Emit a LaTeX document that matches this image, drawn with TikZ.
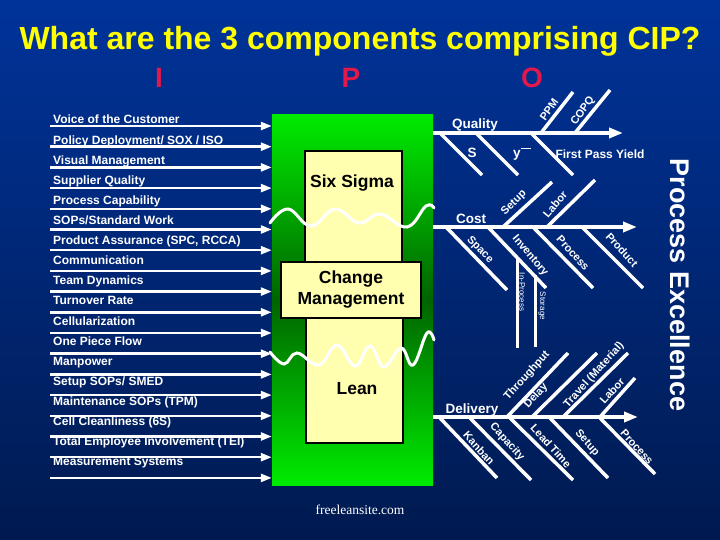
\documentclass[tikz,border=0pt]{standalone}
\usepackage{fontspec}
\setmainfont{Liberation Sans}
\newfontfamily\sitefont{Liberation Serif}
\usepackage{tikz}
\usetikzlibrary{arrows.meta, positioning, calc}

\definecolor{bgtop}{RGB}{0,51,153}
\definecolor{bgbot}{RGB}{0,26,80}
\definecolor{titleyellow}{RGB}{255,255,0}
\definecolor{ipored}{RGB}{225,25,75}
\definecolor{boxyellow}{RGB}{255,255,175}
\definecolor{greenlight}{RGB}{0,235,0}
\definecolor{greendark}{RGB}{0,100,0}

\begin{document}
\begin{tikzpicture}[x=1pt, y=-1pt,
    inarrow/.style={white, line width=2.5pt, -{Triangle[length=11pt, width=8pt]}},
    spine/.style={white, line width=3.5pt, -{Triangle[length=14pt, width=10pt]}},
    bone/.style={white, line width=3.5pt},
    inlabel/.style={white, anchor=base west, inner sep=0pt, font=\bfseries\fontsize{12}{14}\selectfont},
    spinelabel/.style={white, anchor=base, inner sep=0pt, font=\bfseries\fontsize{13.5}{15}\selectfont},
    bonelabel/.style={white, inner sep=0pt, font=\bfseries\fontsize{11}{13}\selectfont},
    smalllabel/.style={white, inner sep=0pt, font=\fontsize{8}{9}\selectfont},
    ybox/.style={draw=black, line width=2.5pt, fill=boxyellow, inner sep=0pt},
    boxtext/.style={font=\bfseries\fontsize{17.5}{21}\selectfont, align=center},
    ipo/.style={text=ipored, anchor=base, font=\bfseries\fontsize{28}{30}\selectfont},
    wave/.style={white, line width=3pt, line cap=round}]

    \shade[top color=bgtop, bottom color=bgbot] (0,0) rectangle (720,540);
    \useasboundingbox (0,0) rectangle (720,540);

    \node[text=titleyellow, anchor=base, font=\bfseries\fontsize{32}{36}\selectfont] (title) at (360,50)
        {What are the 3 components comprising CIP?};
    \node[ipo] (ipoI) at (159,88) {I};
    \node[ipo] (ipoP) at (351,88) {P};
    \node[ipo] (ipoO) at (532,88) {O};

    % process block
    \node[shade, top color=greenlight, bottom color=greenlight, middle color=greendark,
        minimum width=161pt, minimum height=370pt, inner sep=0pt] (bigbox) at (352.5,300) {};
    \node[ybox, minimum width=97pt, minimum height=111pt] (sixsigma) at (353.5,206.5) {};
    \node[ybox, minimum width=97pt, minimum height=125pt] (lean) at (354.5,380.5) {};
    \node[ybox, boxtext, minimum width=140pt, minimum height=56pt] (change) at (351,290) {Change\\Management};
    \node[boxtext] (sixsigmatext) at (352,183) {Six Sigma};
    \node[boxtext] (leantext) at (357,389) {Lean};

    \draw[wave] plot[smooth, tension=0.7] coordinates {(270,223) (288,209) (311,226) (335,209) (359,223)
        (380,214) (407,227) (426,206) (434,208)};
    \draw[wave] plot[smooth, tension=0.7] coordinates {(270,352) (284,364) (297,353) (319,365) (337,345)
        (355,366) (370,346) (384,367) (401,348) (413,365) (427,333) (434,340)};

    % inputs
    \foreach \txt [count=\i from 0] in {{Voice of the Customer}, {Policy Deployment/ SOX / ISO},
        {Visual Management}, {Supplier Quality}, {Process Capability}, {SOPs/Standard Work},
        {Product Assurance (SPC, RCCA)}, {Communication}, {Team Dynamics}, {Turnover Rate},
        {Cellularization}, {One Piece Flow}, {Manpower}, {Setup SOPs/ SMED},
        {Maintenance SOPs (TPM)}, {Cell Cleanliness (6S)}, {Total Employee Involvement (TEI)},
        {Measurement Systems}} {
        \node[inlabel] (lab\i) at (53, 124+20.1*\i) {\txt};
        \coordinate (in\i) at (50, 126+20.7*\i);
        \draw[inarrow] (in\i) -- (in\i -| bigbox.west);
    }

    % quality
    \coordinate (qtip) at (623,133);
    \draw[spine] (bigbox.east |- qtip) -- (qtip);
    \node[spinelabel] (quality) at (475,129) {Quality};
    \draw[bone] (440,133) -- (482,175);
    \draw[bone] (476,133) -- (518,175);
    \draw[bone] (531,133) -- (573,175);
    \draw[bone] (541,133) -- (573,92);
    \draw[bone] (575,133) -- (610,90);
    \node[spinelabel] (sdev) at (472,158) {S};
    \node[spinelabel, anchor=base west] (ybar) at (513,158) {y\raisebox{9.5pt}{\rule{10pt}{0.8pt}}};
    \node[bonelabel, font=\bfseries\fontsize{12}{14}\selectfont] (fpy) at (600,154) {First Pass Yield};
    \node[bonelabel, rotate=55] (ppm) at (549,110) {PPM};
    \node[bonelabel, rotate=55] (copq) at (583,111) {COPQ};

    % cost
    \coordinate (ctip) at (637,227);
    \draw[spine] (bigbox.east |- ctip) -- (ctip);
    \node[spinelabel] (cost) at (471,223) {Cost};
    \draw[bone] (503,227) -- (552,182);
    \draw[bone] (547,227) -- (595,180);
    \draw[bone] (446,227) -- (507,290);
    \draw[bone] (488,227) -- (546,288);
    \draw[bone] (533,227) -- (593,288);
    \draw[bone] (582,227) -- (643,288);
    \draw[bone, line width=3pt] (517,257) -- (517,348);
    \draw[bone, line width=3pt] (535,275) -- (535,347);
    \node[bonelabel, rotate=45] (csetup) at (514,203) {Setup};
    \node[bonelabel, rotate=50] (clabor) at (555,204) {Labor};
    \node[bonelabel, rotate=-45] (cspace) at (480,250) {Space};
    \node[bonelabel, rotate=-50] (cinv) at (530,256) {Inventory};
    \node[bonelabel, rotate=-48] (cproc) at (573,253) {Process};
    \node[bonelabel, rotate=-48] (cprod) at (622,250) {Product};
    \node[smalllabel, rotate=-90] (inproc) at (522,292) {In-Process};
    \node[smalllabel, rotate=-90] (storage) at (542,306) {Storage};

    % delivery
    \coordinate (dtip) at (638,417);
    \draw[spine] (bigbox.east |- dtip) -- (dtip);
    \node[spinelabel] (delivery) at (472,413) {Delivery};
    \draw[bone] (507,417) -- (568,353);
    \draw[bone] (532,417) -- (597,353);
    \draw[bone] (563,417) -- (628,353);
    \draw[bone] (600,417) -- (635,378);
    \draw[bone] (440,418) -- (497,478);
    \draw[bone] (470,418) -- (531,480);
    \draw[bone] (510,418) -- (573,480);
    \draw[bone] (550,418) -- (608,478);
    \draw[bone] (600,418) -- (655,474);
    \node[bonelabel, rotate=48] (dthru) at (527,376) {Throughput};
    \node[bonelabel, rotate=48] (ddelay) at (536,396) {Delay};
    \node[bonelabel, rotate=48] (dtravel) at (594,375) {Travel (Material)};
    \node[bonelabel, rotate=48] (dlabor) at (612,391) {Labor};
    \node[bonelabel, rotate=-48] (dkanban) at (479,448) {Kanban};
    \node[bonelabel, rotate=-48] (dcap) at (507,442) {Capacity};
    \node[bonelabel, rotate=-48] (dlead) at (551,446) {Lead Time};
    \node[bonelabel, rotate=-48] (dsetup) at (587,443) {Setup};
    \node[bonelabel, rotate=-48] (dproc) at (637,447) {Process};

    \node[white, rotate=-90, anchor=base, font=\bfseries\fontsize{27}{30}\selectfont] (excel) at (670,285)
        {Process Excellence};
    \node[white, font=\sitefont\fontsize{13.5}{15}\selectfont] (site) at (360,510) {freeleansite.com};
\end{tikzpicture}
\end{document}
